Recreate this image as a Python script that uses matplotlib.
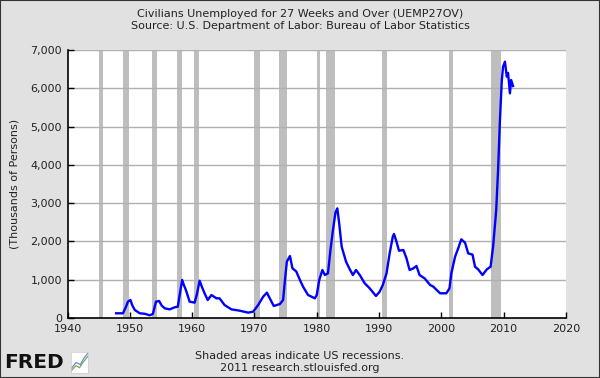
import matplotlib
matplotlib.use("Agg")
import matplotlib.pyplot as plt
from matplotlib.patches import Rectangle
from matplotlib.ticker import FuncFormatter

# Data
years = [1947.8, 1948.9, 1949.4, 1949.7, 1950.1, 1950.4, 1950.8, 1951.6, 1952.4, 1953.2, 1953.7,
         1954.2, 1954.7, 1955.1, 1955.6, 1956.4, 1957.2, 1957.7, 1958.1, 1958.4, 1958.7, 1959.0,
         1959.6, 1960.4, 1960.8, 1961.2, 1961.6, 1962.0, 1962.5, 1963.1, 1963.9, 1964.4, 1965.2,
         1966.3, 1967.6, 1969.0, 1969.8, 1970.6, 1971.4, 1972.0, 1972.6, 1973.1, 1974.1, 1974.6,
         1974.9, 1975.2, 1975.7, 1976.1, 1976.7, 1977.3, 1977.8, 1978.6, 1979.7, 1980.0, 1980.4,
         1980.9, 1981.3, 1981.8, 1982.2, 1982.6, 1983.0, 1983.3, 1983.6, 1984.0, 1984.7, 1985.3,
         1985.8, 1986.3, 1986.9, 1987.7, 1988.5, 1989.5, 1990.1, 1990.6, 1991.2, 1991.7, 1992.2,
         1992.4, 1992.8, 1993.2, 1993.9, 1994.4, 1994.9, 1995.5, 1996.0, 1996.5, 1997.3, 1998.2,
         1998.7, 1999.8, 2000.8, 2001.3, 2001.6, 2002.2, 2002.7, 2003.2, 2003.8, 2004.3, 2005.0,
         2005.4, 2005.9, 2006.6, 2007.3, 2007.9, 2008.3, 2008.8, 2009.1, 2009.4, 2009.7, 2009.9,
         2010.2, 2010.5, 2010.7, 2011.0, 2011.2, 2011.5]
values = [123, 123, 300, 427, 470, 330, 209, 123, 110, 70, 105,
          427, 444, 330, 252, 226, 279, 296, 700, 993, 850, 731,
          427, 401, 644, 975, 800, 644, 470, 600, 514, 514, 340,
          226, 192, 140, 166, 340, 557, 662, 470, 313, 366, 470,
          993, 1471, 1619, 1297, 1219, 993, 819, 601, 514, 601, 993,
          1254, 1123, 1167, 1776, 2298, 2750, 2864, 2473, 1863, 1471, 1271,
          1123, 1254, 1123, 906, 775, 575, 688, 862, 1167, 1689, 2124,
          2194, 1993, 1758, 1776, 1559, 1254, 1297, 1358, 1123, 1036, 862,
          819, 645, 645, 775, 1167, 1602, 1820, 2055, 1967, 1689, 1654,
          1340, 1271, 1123, 1271, 1340, 1863, 2821, 3865, 5171, 6216, 6564,
          6694, 6303, 6400, 5868, 6216, 6060]

recession_starts = [1945.1, 1948.9, 1953.5, 1957.6, 1960.3, 1969.9, 1973.9, 1980.0, 1981.5, 1990.5, 2001.2, 2007.9]
recession_ends = [1945.75, 1949.8, 1954.4, 1958.3, 1961.1, 1970.9, 1975.2, 1980.5, 1982.9, 1991.2, 2001.9, 2009.5]

x_ticks = [1940, 1950, 1960, 1970, 1980, 1990, 2000, 2010, 2020]
y_ticks = [0, 1000, 2000, 3000, 4000, 5000, 6000, 7000]

title = "Civilians Unemployed for 27 Weeks and Over (UEMP27OV)\nSource: U.S. Department of Labor: Bureau of Labor Statistics"
ylabel = "(Thousands of Persons)"
footer = "Shaded areas indicate US recessions.\n2011 research.stlouisfed.org"

bg = "#e1e1e1"
fig = plt.figure(figsize=(6.0, 3.78), dpi=100, facecolor=bg)
ax = fig.add_axes([67.5 / 600, 1 - 318 / 378, (566 - 67.5) / 600, (318 - 50) / 378])
ax.set_facecolor("white")

for s, e in zip(recession_starts, recession_ends):
    ax.axvspan(s, e, color="#bebebe", lw=0, zorder=1)

for yv in y_ticks[1:]:
    ax.axhline(yv, color="#b0b0b0", lw=1.0, zorder=1.5)

ax.plot(years, values, color="#0000ff", lw=1.7, zorder=3)

ax.set_xlim(1940, 2020)
ax.set_ylim(0, 7000)
ax.set_xticks(x_ticks)
ax.set_yticks(y_ticks)
ax.yaxis.set_major_formatter(FuncFormatter(lambda v, p: f"{int(v):,}"))
ax.tick_params(direction="in", length=4, width=1, color="black", labelsize=8, pad=4,
               labelcolor="#222222")
for sp in ["top", "right"]:
    ax.spines[sp].set_visible(False)
for sp in ["left", "bottom"]:
    ax.spines[sp].set_color("black")
    ax.spines[sp].set_linewidth(1.2)
ax.set_ylabel(ylabel, fontsize=8, labelpad=8, color="#222222")

fig.text(0.5, 1 - 20 / 378, title, ha="center", va="center", fontsize=8,
         linespacing=1.3, color="#222222")
fig.text(0.5, 1 - 362 / 378, footer, ha="center", va="center", fontsize=8,
         linespacing=1.25, color="#222222")

# FRED logo
fig.text(4 / 600, 1 - 362 / 378, "FRED", ha="left", va="center", fontsize=14.5,
         fontweight="heavy", color="#111111", family="DejaVu Sans")
logo = fig.add_axes([71 / 600, 1 - 373 / 378, 17 / 600, 21 / 378])
logo.set_facecolor("white")
logo.plot([0, 0.3, 0.5, 0.7, 1.0], [0.1, 0.35, 0.25, 0.5, 0.8], color="#7fa35a", lw=0.9)
logo.plot([0, 0.3, 0.55, 0.75, 1.0], [0.2, 0.5, 0.4, 0.7, 0.95], color="#6a8fc8", lw=0.9)
logo.set_xlim(0, 1)
logo.set_ylim(0, 1)
logo.set_xticks([])
logo.set_yticks([])
for sp in logo.spines.values():
    sp.set_color("#cccccc")
    sp.set_linewidth(0.5)

fig.add_artist(Rectangle((0, 0), 1, 1, transform=fig.transFigure, fill=False,
                         edgecolor="#333333", lw=1.5))

fig.savefig("out.png", dpi=100, facecolor=bg)
